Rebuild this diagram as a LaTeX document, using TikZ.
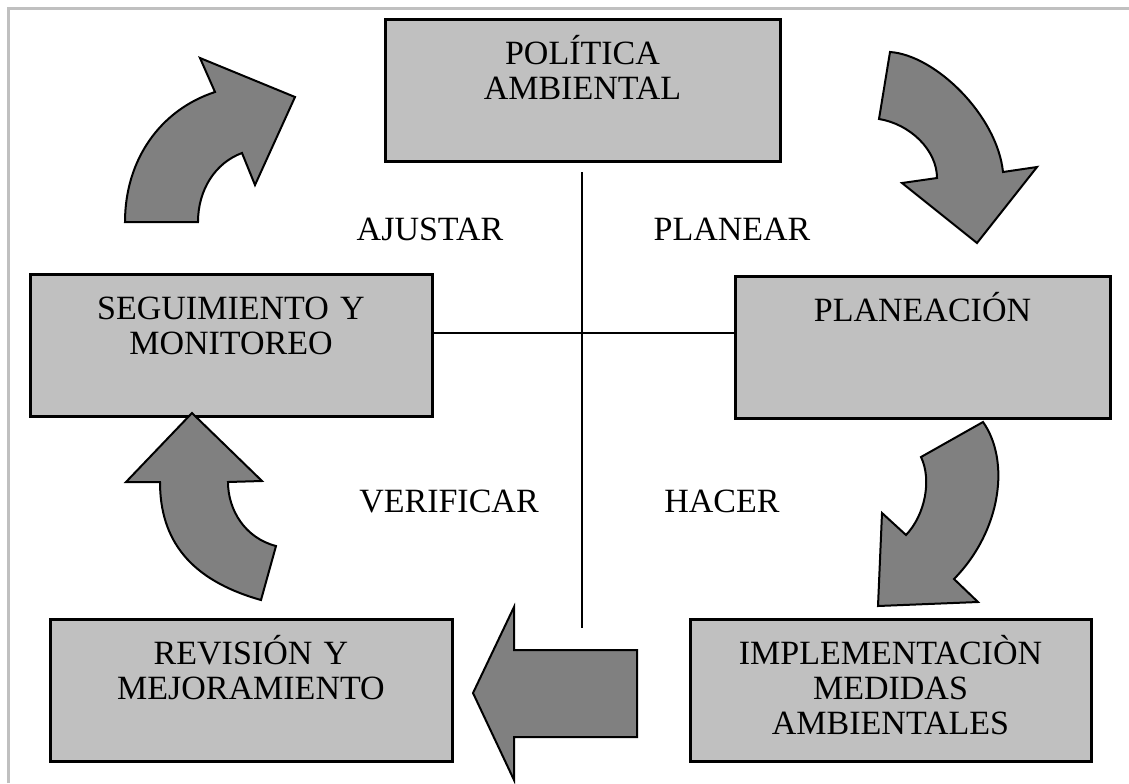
\documentclass[tikz,border=0pt]{standalone}
\usepackage{fontspec}
\setmainfont{Liberation Serif}
\usetikzlibrary{positioning}
\definecolor{gris}{HTML}{C0C0C0}
\definecolor{grisosc}{HTML}{808080}
\tikzset{
    caja/.style={
        rectangle,
        draw=black, line width=1.5pt,
        fill=gris,
        inner sep=0pt,
        anchor=north,
        align=center,
        text height=22.5pt,
        text depth=48.5pt,
        font=\fontsize{17}{17.5}\selectfont
    },
    flecha/.style={draw=black, line width=1pt, fill=grisosc},
    etiqueta/.style={anchor=base, font=\fontsize{17}{17}\selectfont},
    linea/.style={draw, line width=1pt}
}
\begin{document}
\begin{tikzpicture}[x=0.5pt, y=-0.5pt]
\useasboundingbox (0,0) rectangle (1129,783);
% marco
\draw[gris, line width=1.5pt] (8.5,783) -- (8.5,8.5) -- (1129,8.5);

% cajas
\node[caja, text width=197.5pt] (pol) at (582.5,18) {POLÍTICA\\AMBIENTAL};
\node[caja, text width=201pt] (seg) at (231,273) {SEGUIMIENTO Y\\MONITOREO};
\node[caja, text width=187.5pt] (pla) at (922.5,275) {PLANEACIÓN};
\node[caja, text width=201pt] (rev) at (251,618) {REVISIÓN Y\\MEJORAMIENTO};
\node[caja, text width=200.5pt] (imp) at (890.5,618) {IMPLEMENTACIÒN\\MEDIDAS\\AMBIENTALES};

% cruz
\coordinate (v1) at (582,172);
\coordinate (v2) at (582,628);
\coordinate (h) at (0,333);
\draw[linea] (v1) -- (v2);
\draw[linea] (seg.east |- h) -- (pla.west |- h);

% etiquetas
\node[etiqueta] (ajustar) at (430,240) {AJUSTAR};
\node[etiqueta] (planear) at (732,240) {PLANEAR};
\node[etiqueta] (verificar) at (449,512) {VERIFICAR};
\node[etiqueta] (hacer) at (722,512) {HACER};

% flechas
\draw[flecha] (125,222) .. controls (125,160) and (160,110) .. (215,92) -- (200,58) -- (295,97) -- (255,185) -- (242,153) .. controls (215,163) and (198,190) .. (198,222) -- cycle;
\draw[flecha] (890,52) .. controls (935,55) and (997,115) .. (1003,172) -- (1037,167) -- (977,243) -- (902,183) -- (937,178) .. controls (937,150) and (910,124) .. (879,119) -- cycle;
\draw[flecha] (983,422) .. controls (1010,460) and (1002,530) .. (954,579) -- (978,602) -- (878,606) -- (882,513) -- (906,535) .. controls (925,515) and (932,480) .. (921,457) -- cycle;
\draw[flecha] (637,650) -- (514,650) -- (514,607) -- (473,693) -- (514,780) -- (514,737) -- (637,737) -- cycle;
\draw[flecha] (261,600) .. controls (190,580) and (160,540) .. (160,482) -- (126,482) -- (192,413) -- (262,481) -- (228,482) .. controls (228,510) and (245,538) .. (276,546) -- cycle;
\end{tikzpicture}
\end{document}
